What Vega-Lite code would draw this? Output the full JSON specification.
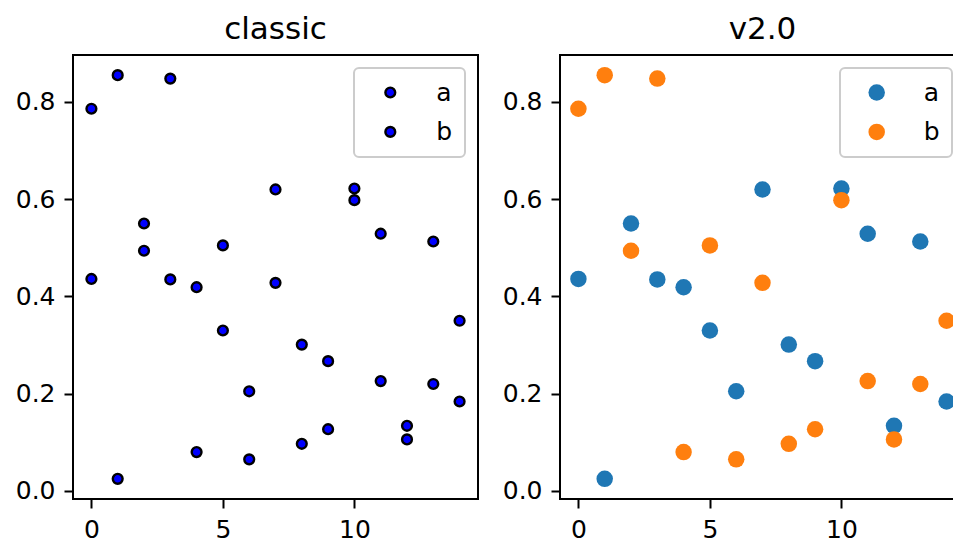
{
  "$schema": "https://vega.github.io/schema/vega-lite/v6.json",
  "padding": {"left": 14, "top": 12, "right": 0, "bottom": 0},
  "background": "white",
  "datasets": {
    "pts": [
      {"x": 0, "series": "a", "y": 0.436},
      {"x": 1, "series": "a", "y": 0.025},
      {"x": 2, "series": "a", "y": 0.550},
      {"x": 3, "series": "a", "y": 0.435},
      {"x": 4, "series": "a", "y": 0.419},
      {"x": 5, "series": "a", "y": 0.330},
      {"x": 6, "series": "a", "y": 0.205},
      {"x": 7, "series": "a", "y": 0.620},
      {"x": 8, "series": "a", "y": 0.301},
      {"x": 9, "series": "a", "y": 0.267},
      {"x": 10, "series": "a", "y": 0.622},
      {"x": 11, "series": "a", "y": 0.529},
      {"x": 12, "series": "a", "y": 0.134},
      {"x": 13, "series": "a", "y": 0.513},
      {"x": 14, "series": "a", "y": 0.184},
      {"x": 0, "series": "b", "y": 0.786},
      {"x": 1, "series": "b", "y": 0.855},
      {"x": 2, "series": "b", "y": 0.494},
      {"x": 3, "series": "b", "y": 0.848},
      {"x": 4, "series": "b", "y": 0.080},
      {"x": 5, "series": "b", "y": 0.505},
      {"x": 6, "series": "b", "y": 0.065},
      {"x": 7, "series": "b", "y": 0.428},
      {"x": 8, "series": "b", "y": 0.097},
      {"x": 9, "series": "b", "y": 0.127},
      {"x": 10, "series": "b", "y": 0.598},
      {"x": 11, "series": "b", "y": 0.226},
      {"x": 12, "series": "b", "y": 0.106},
      {"x": 13, "series": "b", "y": 0.220},
      {"x": 14, "series": "b", "y": 0.350}
    ]
  },
  "bounds": "flush",
  "spacing": 82,
  "hconcat": [
    {
      "title": "classic",
      "width": 405,
      "height": 444,
      "data": {"name": "pts"},
      "mark": {"type": "circle", "size": 96, "stroke": "black", "strokeWidth": 2.4, "opacity": 1},
      "encoding": {
        "x": {"field": "x", "type": "quantitative", "scale": {"domain": [-0.7, 14.7], "nice": false, "zero": false}, "axis": {"values": [0, 5, 10], "title": null}},
        "y": {"field": "y", "type": "quantitative", "scale": {"domain": [-0.0165, 0.8965], "nice": false, "zero": false}, "axis": {"values": [0, 0.2, 0.4, 0.6, 0.8], "format": ".1f", "title": null}},
        "color": {
          "field": "series", "type": "nominal",
          "scale": {"domain": ["a", "b"], "range": ["#0000ff", "#0000ff"]},
          "legend": {"symbolSize": 96, "symbolStrokeColor": "black", "symbolStrokeWidth": 2.4, "symbolOffset": 11.8, "labelOffset": 33.5}
        }
      }
    },
    {
      "title": "v2.0",
      "width": 405,
      "height": 444,
      "data": {"name": "pts"},
      "mark": {"type": "circle", "size": 272, "opacity": 1},
      "encoding": {
        "x": {"field": "x", "type": "quantitative", "scale": {"domain": [-0.7, 14.7], "nice": false, "zero": false}, "axis": {"values": [0, 5, 10], "title": null}},
        "y": {"field": "y", "type": "quantitative", "scale": {"domain": [-0.0165, 0.8965], "nice": false, "zero": false}, "axis": {"values": [0, 0.2, 0.4, 0.6, 0.8], "format": ".1f", "title": null}},
        "color": {
          "field": "series", "type": "nominal",
          "scale": {"domain": ["a", "b"], "range": ["#1f77b4", "#ff7f0e"]},
          "legend": {"symbolSize": 272, "symbolStrokeWidth": 0, "symbolOffset": 12.2, "labelOffset": 34.5}
        }
      }
    }
  ],
  "resolve": {"scale": {"color": "independent"}, "legend": {"color": "independent"}},
  "config": {
    "font": "DejaVu Sans",
    "view": {"stroke": "black", "strokeWidth": 2},
    "title": {"fontSize": 31, "font": "DejaVu Sans", "fontWeight": "normal", "color": "black", "anchor": "middle", "baseline": "alphabetic", "offset": 9.5},
    "axis": {
      "domain": false,
      "grid": false,
      "ticks": true,
      "tickColor": "black",
      "tickWidth": 2,
      "tickSize": 9,
      "labelFont": "DejaVu Sans",
      "labelFontSize": 25,
      "labelColor": "black",
      "labelPadding": 9
    },
    "legend": {
      "orient": "top-right",
      "offset": 13,
      "title": null,
      "labelFont": "DejaVu Sans",
      "labelFontSize": 25,
      "labelColor": "black",
      "fillColor": "white",
      "strokeColor": "#cccccc",
      "strokeWidth": 2,
      "cornerRadius": 5,
      "padding": 12,
      "rowPadding": 13.4,
      "symbolType": "circle"
    }
  }
}
